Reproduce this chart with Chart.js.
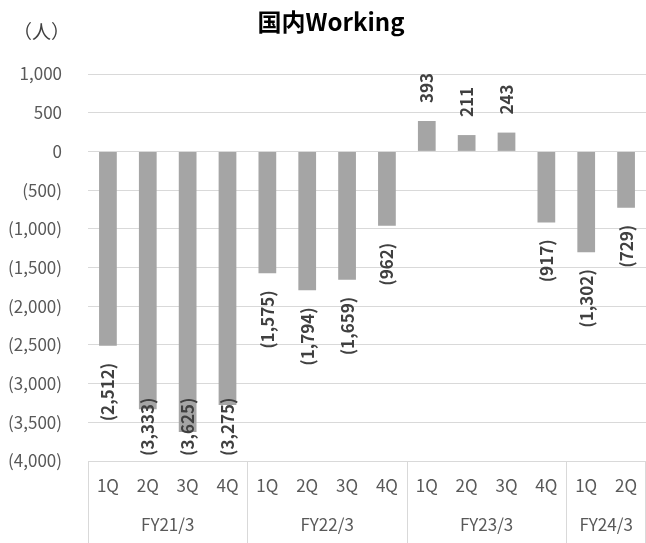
<!DOCTYPE html>
<html lang="ja">
<head>
<meta charset="UTF-8">
<title>国内Working</title>
<script src="https://cdn.jsdelivr.net/npm/chart.js@4.4.1/dist/chart.umd.min.js"></script>
<style>
  html, body { margin: 0; padding: 0; background: #fff; }
</style>
</head>
<body>
<canvas id="chart" width="646" height="543"></canvas>
<script>
  const quarters = ['1Q', '2Q', '3Q', '4Q', '1Q', '2Q', '3Q', '4Q', '1Q', '2Q', '3Q', '4Q', '1Q', '2Q'];
  const fiscalYears = ['FY21/3', 'FY22/3', 'FY23/3', 'FY24/3'];
  const quartersPerYear = [4, 4, 4, 2];
  const headcount = [-2512, -3333, -3625, -3275, -1575, -1794, -1659, -962, 393, 211, 243, -917, -1302, -729];
  const titleText = '国内Working';
  const unitText = '（人）';

  const FONT = '"Noto Sans CJK JP", "Noto Sans", sans-serif';
  const GRID = '#d9d9d9';

  // negatives shown in parentheses, accounting style
  function fmt(v) {
    const s = Math.abs(v).toLocaleString('en-US');
    return v < 0 ? '(' + s + ')' : s;
  }

  const decorations = {
    id: 'decorations',
    afterDatasetsDraw(chart) {
      const ctx = chart.ctx;
      const area = chart.chartArea;
      const xs = chart.scales.x;

      ctx.save();
      // title + unit
      ctx.fillStyle = '#000';
      ctx.font = 'bold 24px ' + FONT;
      ctx.textAlign = 'center';
      ctx.textBaseline = 'middle';
      ctx.fillText(titleText, 331, 22);
      ctx.fillStyle = '#404040';
      ctx.font = '19px ' + FONT;
      ctx.textAlign = 'left';
      ctx.fillText(unitText, 13, 32);

      // vertical value labels at the outer end of each bar
      const meta = chart.getDatasetMeta(0);
      ctx.font = 'bold 17px ' + FONT;
      ctx.fillStyle = '#404040';
      meta.data.forEach((bar, i) => {
        const v = headcount[i];
        const text = fmt(v);
        const w = ctx.measureText(text).width;
        ctx.save();
        if (v >= 0) {
          ctx.translate(bar.x, bar.y - 18);
          ctx.rotate(-Math.PI / 2);
          ctx.textAlign = 'left';
        } else {
          const pos = Math.min(bar.y + 17, area.bottom - 5 - w);
          ctx.translate(bar.x, pos);
          ctx.rotate(-Math.PI / 2);
          ctx.textAlign = 'right';
        }
        ctx.textBaseline = 'middle';
        ctx.fillText(text, 0, 0);
        ctx.restore();
      });

      // two-row category axis: quarters, then fiscal years with separators
      const half = (xs.getPixelForValue(1) - xs.getPixelForValue(0)) / 2;
      ctx.fillStyle = '#595959';
      ctx.font = '17px ' + FONT;
      ctx.textAlign = 'center';
      ctx.textBaseline = 'middle';
      quarters.forEach((q, i) => ctx.fillText(q, xs.getPixelForValue(i), area.bottom + 25));

      ctx.strokeStyle = GRID;
      ctx.lineWidth = 1;
      let start = 0;
      const drawSep = (px) => {
        const xx = Math.round(px) + 0.5;
        ctx.beginPath();
        ctx.moveTo(xx, area.bottom);
        ctx.lineTo(xx, chart.height);
        ctx.stroke();
      };
      fiscalYears.forEach((fy, g) => {
        const n = quartersPerYear[g];
        const left = xs.getPixelForValue(start) - half;
        const right = xs.getPixelForValue(start + n - 1) + half;
        drawSep(left);
        ctx.fillText(fy, (left + right) / 2, area.bottom + 64);
        start += n;
      });
      drawSep(xs.getPixelForValue(start - 1) + half - 1);
      ctx.restore();
    }
  };

  new Chart(document.getElementById('chart'), {
    type: 'bar',
    data: {
      labels: quarters.map((q, i) => i + ':' + q),
      datasets: [{
        data: headcount,
        backgroundColor: '#a5a5a5',
        borderWidth: 0,
        categoryPercentage: 1,
        barPercentage: 0.445
      }]
    },
    options: {
      responsive: false,
      animation: false,
      devicePixelRatio: 1,
      layout: { padding: { top: 74, left: 0, right: 0, bottom: 0 } },
      plugins: {
        legend: { display: false },
        tooltip: { enabled: false },
        title: { display: false }
      },
      scales: {
        x: {
          grid: { display: false },
          border: { display: false },
          ticks: { display: false },
          afterFit(s) { s.height = 82; }
        },
        y: {
          min: -4000,
          max: 1000,
          ticks: {
            stepSize: 500,
            callback: (v) => fmt(v),
            color: '#595959',
            font: { size: 17, family: FONT },
            padding: 26
          },
          grid: { color: GRID, drawTicks: false },
          border: { display: false },
          afterFit(s) { s.width = 88; }
        }
      }
    },
    plugins: [decorations]
  });
</script>
</body>
</html>
